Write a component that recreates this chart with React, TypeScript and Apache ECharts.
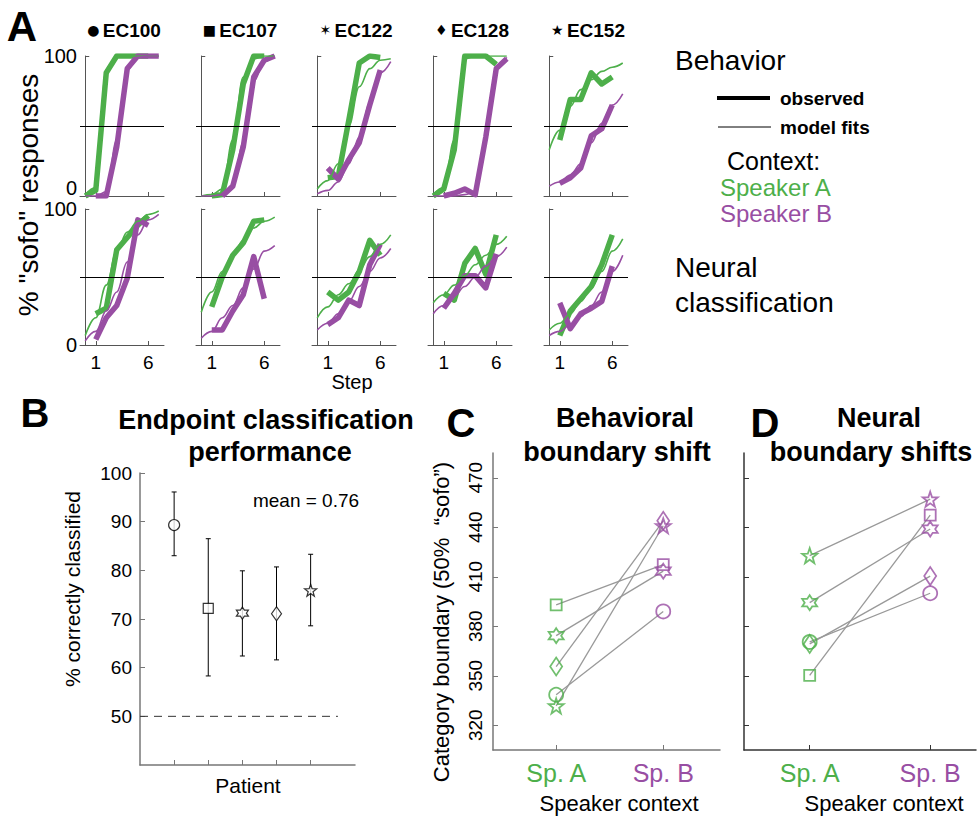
import React, { useEffect, useRef } from 'react';
import * as echarts from 'echarts';

// ---------- DATA ----------
const patients = ['EC100', 'EC107', 'EC122', 'EC128', 'EC152'];
const patientGlyphs = ['●', '■', '✶', '♦', '★'];
const steps = [0, 1, 2, 3, 4, 5, 6, 7];
const stepTicks = [1, 6];
const pctTicks = [0, 100];
const midLine = 50;

// Behavior (% "sofo" responses), indexed by step 0..7 (null = no point)
const behGreenObs = [
  [0, 4, 88, 100, 100, 100, 100, null],
  [null, 0, 1, 33, 80, 100, 100, null],
  [null, 13, 14, 54, 95, 100, 99, null],
  [0, 5, 33, 100, 100, 100, 94, null],
  [null, 40, 69, 69, 88, 80, 85, null],
];
const behPurpleObs = [
  [null, 0, 0, 35, 91, 100, 100, 100],
  [null, null, 0, 7, 35, 85, 97, 100],
  [null, 20, 12, 26, 38, 65, 90, null],
  [null, 0, 2, 5, 1, 42, 91, 98],
  [null, 9, 13, 20, 43, 48, 65, null],
];
const behGreenFit = [
  [1, 6, 90, 100, 100, 100, 100, 100],
  [0, 1, 5, 40, 85, 98, 100, 100],
  [5, 11, 23, 50, 78, 91, 97, 98],
  [1, 6, 40, 98, 100, 100, 100, 100],
  [33, 47, 64, 76, 83, 89, 92, 95],
];
const behPurpleFit = [
  [0, 0, 3, 40, 90, 99, 100, 100],
  [0, 0, 1, 8, 38, 82, 96, 100],
  [1.5, 4, 10, 23, 42, 66, 88, 96],
  [0, 0, 0, 1, 3, 40, 92, 99],
  [7, 10, 15, 23, 38, 52, 65, 73],
];

// Neural classification
const neuGreenObs = [
  [null, 23, 27, 70, 79, 88, 95, null],
  [null, 28, 50, 66, 75, 91, 92, null],
  [null, 39, 33, 39, 54, 77, 66, null],
  [null, 38, 33, 60, 71, 52, 81, null],
  [null, 7, 25, 34, 43, 59, 81, null],
];
const neuPurpleObs = [
  [null, 4, 20, 29, 49, 92, 88, null],
  [null, 11, 11, 25, 37, 65, 34, null],
  [null, 15, 20, 33, 29, 59, 74, null],
  [null, 27, 38, 51, 51, 42, 67, null],
  [null, 31, 12, 23, 27, 32, 58, null],
];
const neuGreenFit = [
  [7, 20, 44, 69, 83, 91, 96, 98.5],
  [24, 39, 54, 66, 77, 86, 91, 94],
  [20, 28, 37, 45, 55, 65, 74, 81],
  [31, 37, 44, 51, 59, 66, 74, 80],
  [11, 16, 23, 32, 42, 54, 69, 78],
];
const neuPurpleFit = [
  [3, 10, 25, 39, 61, 81, 92, 96],
  [5, 10, 20, 29, 42, 56, 69, 73],
  [11, 16, 23, 32, 43, 54, 64, 71],
  [23, 29, 36, 43, 50, 58, 65, 72],
  [7, 10, 15, 21, 29, 39, 54, 66],
];

// Panel B: endpoint classification
const classAcc = [89.3, 72.2, 71.2, 71.1, 75.9];
const classLow = [83.0, 58.3, 62.4, 61.6, 68.6];
const classHigh = [96.1, 86.5, 79.9, 80.7, 83.3];
const accTicks = [50, 60, 70, 80, 90, 100];
const chanceLevel = 50;
const meanAcc = 0.76;

// Panels C, D: category boundaries
const contexts = ['Sp. A', 'Sp. B'];
const boundaryTicks = [320, 350, 380, 410, 440, 470];
const behBoundaryA = [338.5, 393, 374.3, 355.6, 331.7];
const behBoundaryB = [389, 417.4, 413.4, 443.9, 440.9];
const neuBoundaryA = [370.5, 350.2, 394.3, 369.3, 422.8];
const neuBoundaryB = [400, 447.3, 438.9, 410.4, 457];

// ---------- STYLE ----------
const GREEN = '#4daf4a';
const PURPLE = '#984ea3';
const FONT = "'Liberation Sans', Arial, Helvetica, sans-serif";
const STAR5 =
  'path://M50 0 L61.76 33.82 L97.55 34.55 L69.02 56.18 L79.39 90.45 L50 70 L20.61 90.45 L30.98 56.18 L2.45 34.55 L38.24 33.82 Z';
const STAR6 =
  'path://M50 0 L64.43 25 L93.3 25 L78.87 50 L93.3 75 L64.43 75 L50 100 L35.57 75 L6.7 75 L21.13 50 L6.7 25 L35.57 25 Z';
const patientSymbols = ['circle', 'rect', STAR6, 'diamond', STAR5];
const symSizeB: any[] = [11, 10, 12, [10, 14], 12];
const symSizeCD: any[] = [14, 11, 15, [12, 18], 15];

function pts(arr: (number | null)[]) {
  return steps.map((s, k) => [s, arr[k]]).filter((p) => p[1] !== null);
}

function buildOption() {
  const grid: any[] = [];
  const xAxis: any[] = [];
  const yAxis: any[] = [];
  const series: any[] = [];
  const graphic: any[] = [];

  const axisCol = '#555';
  // Panel A: 2 rows x 5 columns
  for (let r = 0; r < 2; r++) {
    const sets =
      r === 0
        ? [behGreenObs, behPurpleObs, behGreenFit, behPurpleFit]
        : [neuGreenObs, neuPurpleObs, neuGreenFit, neuPurpleFit];
    for (let i = 0; i < 5; i++) {
      const g = grid.length;
      grid.push({
        left: 80 + 116 * i,
        top: r === 0 ? 56 : 209,
        width: 84,
        height: r === 0 ? 140 : 136,
      });
      xAxis.push({
        gridIndex: g,
        type: 'value',
        min: -0.5,
        max: 7.5,
        axisLine: { show: true, lineStyle: { color: axisCol, width: 1 } },
        axisTick: { show: true, inside: true, length: 4, customValues: stepTicks, lineStyle: { color: axisCol } },
        axisLabel: {
          show: r === 1,
          customValues: stepTicks,
          fontSize: 19,
          color: '#000',
          fontFamily: FONT,
          margin: 8,
        },
        splitLine: { show: false },
      });
      yAxis.push({
        gridIndex: g,
        type: 'value',
        min: 0,
        max: 100,
        axisLine: { show: true, lineStyle: { color: axisCol, width: 1 } },
        axisTick: { show: true, inside: true, length: 4, customValues: pctTicks, lineStyle: { color: axisCol } },
        axisLabel: {
          show: i === 0,
          customValues: pctTicks,
          margin: 3,
          formatter: (v: number) => (v === 0 && r === 0 ? '{z|0}' : '{n|' + v + '}'),
          rich: {
            z: { fontSize: 20, color: '#000', fontFamily: FONT, padding: [0, 0, 16, 0] },
            n: { fontSize: 20, color: '#000', fontFamily: FONT },
          },
        },
        splitLine: { show: false },
      });
      const [gO, pO, gF, pF] = sets;
      series.push({
        type: 'line',
        xAxisIndex: g,
        yAxisIndex: g,
        data: [],
        symbol: 'none',
        z: 1,
        markLine: {
          silent: true,
          symbol: ['none', 'none'],
          label: { show: false },
          lineStyle: { color: '#000', width: 1, type: 'solid' },
          data: [{ yAxis: midLine }],
        },
      });
      series.push({
        type: 'line', xAxisIndex: g, yAxisIndex: g, data: pts(gO[i]), symbol: 'none', z: 2,
        lineStyle: { color: GREEN, width: 5.5, join: 'round' },
      });
      series.push({
        type: 'line', xAxisIndex: g, yAxisIndex: g, data: pts(pO[i]), symbol: 'none', z: 2,
        lineStyle: { color: PURPLE, width: 5.5, join: 'round' },
      });
      series.push({
        type: 'line', xAxisIndex: g, yAxisIndex: g, data: pts(gF[i]), symbol: 'none', z: 3,
        smooth: 0.4, smoothMonotone: 'x',
        lineStyle: { color: GREEN, width: 1.6 },
      });
      series.push({
        type: 'line', xAxisIndex: g, yAxisIndex: g, data: pts(pF[i]), symbol: 'none', z: 3,
        smooth: 0.4, smoothMonotone: 'x',
        lineStyle: { color: PURPLE, width: 1.6 },
      });
    }
  }

  // Panel B
  const gB = grid.length;
  grid.push({ left: 140, top: 473, width: 215, height: 292 });
  xAxis.push({
    gridIndex: gB, type: 'value', min: 0, max: 6.3,
    axisLine: { show: true, lineStyle: { color: '#777', width: 1.5 } },
    axisTick: { show: true, inside: true, length: 5, customValues: [1, 2, 3, 4, 5], lineStyle: { color: '#777' } },
    axisLabel: { show: false },
    splitLine: { show: false },
  });
  yAxis.push({
    gridIndex: gB, type: 'value', min: 40, max: 100,
    axisLine: { show: true, lineStyle: { color: '#777', width: 1.5 } },
    axisTick: { show: true, inside: true, length: 5, customValues: accTicks, lineStyle: { color: '#777' } },
    axisLabel: { customValues: accTicks, fontSize: 19, color: '#000', fontFamily: FONT, margin: 8 },
    splitLine: { show: false },
  });
  series.push({
    type: 'line', xAxisIndex: gB, yAxisIndex: gB, symbol: 'none',
    data: [[0, chanceLevel], [5.8, chanceLevel]],
    lineStyle: { color: '#333', width: 1, type: [8, 6] },
  });
  series.push({
    type: 'custom', xAxisIndex: gB, yAxisIndex: gB, z: 2,
    data: classAcc.map((v, i) => [i + 1, classLow[i], classHigh[i]]),
    encode: { x: 0, y: [1, 2] },
    renderItem: (params: any, api: any) => {
      const x = api.value(0);
      const a = api.coord([x, api.value(1)]);
      const b = api.coord([x, api.value(2)]);
      const st = { stroke: '#000', lineWidth: 1 };
      return {
        type: 'group',
        children: [
          { type: 'line', shape: { x1: a[0], y1: a[1], x2: b[0], y2: b[1] }, style: st },
          { type: 'line', shape: { x1: a[0] - 2.5, y1: a[1], x2: a[0] + 2.5, y2: a[1] }, style: st },
          { type: 'line', shape: { x1: b[0] - 2.5, y1: b[1], x2: b[0] + 2.5, y2: b[1] }, style: st },
        ],
      };
    },
  });
  series.push({
    type: 'scatter', xAxisIndex: gB, yAxisIndex: gB, z: 3,
    data: classAcc.map((v, i) => ({
      value: [i + 1, v],
      symbol: patientSymbols[i],
      symbolSize: symSizeB[i],
    })),
    itemStyle: { color: '#fff', borderColor: '#000', borderWidth: 1.2 },
  });

  // Panels C and D
  const cd = [
    { left: 493, width: 227, min: 0.41, max: 2.53, A: behBoundaryA, B: behBoundaryB, labels: true, axc: '#777' },
    { left: 744, width: 232, min: 0.455, max: 2.38, A: neuBoundaryA, B: neuBoundaryB, labels: false, axc: '#333' },
  ];
  cd.forEach((p) => {
    const g = grid.length;
    grid.push({ left: p.left, top: 453, width: p.width, height: 297 });
    xAxis.push({
      gridIndex: g, type: 'value', min: p.min, max: p.max,
      axisLine: { show: true, lineStyle: { color: p.axc, width: 1.5 } },
      axisTick: { show: true, inside: true, length: 5, customValues: [1, 2], lineStyle: { color: p.axc } },
      axisLabel: {
        customValues: [1, 2],
        margin: 10,
        formatter: (v: number) => (v === 1 ? '{a|' + contexts[0] + '}' : '{b|' + contexts[1] + '}'),
        rich: {
          a: { color: GREEN, fontSize: 25, fontFamily: FONT },
          b: { color: PURPLE, fontSize: 25, fontFamily: FONT },
        },
      },
      splitLine: { show: false },
    });
    yAxis.push({
      gridIndex: g, type: 'value', min: 305, max: 485,
      axisLine: { show: true, lineStyle: { color: p.axc, width: 1.5 } },
      axisTick: { show: true, inside: true, length: 5, customValues: boundaryTicks, lineStyle: { color: p.axc } },
      axisLabel: {
        show: p.labels, customValues: boundaryTicks, rotate: 90,
        fontSize: 19, color: '#000', fontFamily: FONT, margin: 8,
      },
      splitLine: { show: false },
    });
    for (let i = 0; i < 5; i++) {
      series.push({
        type: 'line', xAxisIndex: g, yAxisIndex: g, symbol: 'none', z: 2,
        data: [[1, p.A[i]], [2, p.B[i]]],
        lineStyle: { color: '#999', width: 1.3 },
      });
    }
    for (let i = 0; i < 5; i++) {
      series.push({
        type: 'scatter', xAxisIndex: g, yAxisIndex: g, z: 3,
        symbol: patientSymbols[i], symbolSize: symSizeCD[i],
        data: [
          { value: [1, p.A[i]], itemStyle: { borderColor: GREEN } },
          { value: [2, p.B[i]], itemStyle: { borderColor: PURPLE } },
        ],
        itemStyle: { color: 'rgba(255,255,255,0)', borderWidth: 1.8 },
      });
    }
  });

  // ---------- Texts ----------
  const txt = (x: number, y: number, text: string, size: number, opts: any = {}) => ({
    type: 'text', x, y, rotation: opts.rotation || 0,
    style: {
      text, fontSize: size, fontFamily: FONT, fontWeight: opts.bold ? 'bold' : 'normal',
      fill: opts.fill || '#000', align: opts.align || 'center', verticalAlign: 'middle',
    },
  });
  graphic.push(txt(22, 26, 'A', 42, { bold: true }));
  graphic.push(txt(35, 413, 'B', 40, { bold: true }));
  graphic.push(txt(461, 423, 'C', 40, { bold: true }));
  graphic.push(txt(765, 423, 'D', 40, { bold: true }));
  patients.forEach((p, i) => {
    graphic.push({
      type: 'text', x: 124 + 116 * i, y: 30,
      style: {
        text: '{s|' + patientGlyphs[i] + '} {t|' + p + '}',
        align: 'center', verticalAlign: 'middle',
        rich: {
          s: { fontSize: 14, fontFamily: "'DejaVu Sans', sans-serif", fill: '#000' },
          t: { fontSize: 19, fontWeight: 'bold', fontFamily: FONT, fill: '#000' },
        },
      },
    });
  });
  graphic.push(txt(28, 195, '% "sofo" responses', 28, { rotation: Math.PI / 2 }));
  graphic.push(txt(352, 382, 'Step', 20));

  // legend
  graphic.push(txt(675, 60, 'Behavior', 28, { align: 'left' }));
  graphic.push({ type: 'line', shape: { x1: 717, y1: 98, x2: 770, y2: 98 }, style: { stroke: '#000', lineWidth: 4 } });
  graphic.push(txt(780, 98, 'observed', 19, { bold: true, align: 'left' }));
  graphic.push({ type: 'line', shape: { x1: 718, y1: 127, x2: 771, y2: 127 }, style: { stroke: '#000', lineWidth: 1 } });
  graphic.push(txt(780, 127, 'model fits', 19, { bold: true, align: 'left' }));
  graphic.push(txt(727, 161, 'Context:', 25, { align: 'left' }));
  graphic.push(txt(720, 187, 'Speaker A', 24, { align: 'left', fill: GREEN }));
  graphic.push(txt(720, 213, 'Speaker B', 24, { align: 'left', fill: PURPLE }));
  graphic.push(txt(675, 267, 'Neural', 28, { align: 'left' }));
  graphic.push(txt(675, 302, 'classification', 28, { align: 'left' }));

  // B texts
  graphic.push(txt(266, 420, 'Endpoint classification', 27, { bold: true }));
  graphic.push(txt(270, 452, 'performance', 27, { bold: true }));
  graphic.push(txt(306, 500, 'mean = ' + meanAcc.toFixed(2), 19));
  graphic.push(txt(72, 589, '% correctly classified', 21, { rotation: Math.PI / 2 }));
  graphic.push(txt(248, 785, 'Patient', 21));

  // C texts
  graphic.push(txt(625, 418, 'Behavioral', 27, { bold: true }));
  graphic.push(txt(617, 452, 'boundary shift', 27, { bold: true }));
  graphic.push(txt(441, 622, 'Category boundary (50%  \u201csofo\u201d)', 22, { rotation: Math.PI / 2 }));
  graphic.push(txt(619, 803, 'Speaker context', 22));

  // D texts
  graphic.push(txt(879, 418, 'Neural', 27, { bold: true }));
  graphic.push(txt(871, 452, 'boundary shifts', 27, { bold: true }));
  graphic.push(txt(884, 803, 'Speaker context', 22));

  return {
    animation: false,
    backgroundColor: '#fff',
    textStyle: { fontFamily: FONT },
    grid,
    xAxis,
    yAxis,
    series,
    graphic,
  };
}

export default function App() {
  const ref = useRef<HTMLDivElement>(null);
  useEffect(() => {
    if (!ref.current) return;
    const chart = echarts.init(ref.current, undefined, { renderer: 'svg' });
    chart.setOption(buildOption() as any);
    return () => chart.dispose();
  }, []);
  return (
    <div
      ref={ref}
      style={{ position: 'fixed', left: 0, top: 0, width: 979, height: 819, background: '#fff' }}
    />
  );
}
